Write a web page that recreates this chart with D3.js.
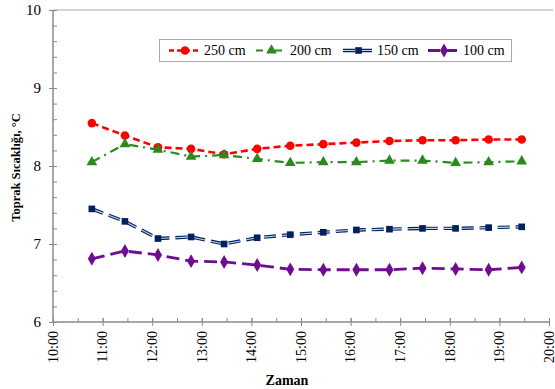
<!DOCTYPE html>
<html>
<head>
<meta charset="utf-8">
<script src="https://cdn.jsdelivr.net/npm/d3@7"></script>
<style>
  html, body { margin: 0; padding: 0; background: #fff; }
  svg { display: block; }
  svg text { font-family: "Liberation Serif", "Times New Roman", "DejaVu Serif", serif; fill: #000; }
</style>
</head>
<body>
<svg id="chart" width="555" height="389"></svg>
<script>
// Measurement times (hh:mm)
const times = ["10:47","11:27","12:07","12:47","13:27","14:07","14:47","15:27","16:07","16:47","17:27","18:07","18:47","19:27"];

// Soil temperature (°C) at each depth
const depth250 = [8.55, 8.39, 8.24, 8.22, 8.15, 8.22, 8.26, 8.28, 8.30, 8.32, 8.33, 8.33, 8.34, 8.34];
const depth200 = [8.05, 8.28, 8.21, 8.12, 8.14, 8.09, 8.04, 8.05, 8.05, 8.07, 8.07, 8.04, 8.05, 8.06];
const depth150 = [7.45, 7.29, 7.07, 7.09, 7.00, 7.08, 7.12, 7.15, 7.18, 7.19, 7.20, 7.20, 7.21, 7.22];
const depth100 = [6.81, 6.91, 6.86, 6.78, 6.77, 6.73, 6.675, 6.67, 6.67, 6.67, 6.69, 6.68, 6.67, 6.70];

const seriesNames = ["250 cm", "200 cm", "150 cm", "100 cm"];

const yTicks = [6, 7, 8, 9, 10];
const xTickLabels = ["10:00","11:00","12:00","13:00","14:00","15:00","16:00","17:00","18:00","19:00","20:00"];

const parse = d3.timeParse("%H:%M");
const serif = "'Liberation Serif', 'Times New Roman', serif";

const svg = d3.select("#chart");
const plotLeft = 53, plotRight = 549, plotTop = 10, plotBottom = 322;

const x = d3.scaleTime()
  .domain([parse("10:00"), parse("20:00")])
  .range([plotLeft, plotRight]);
const y = d3.scaleLinear().domain([6, 10]).range([plotBottom, plotTop]);

const axisColor = "#8a8a8a";

// top border of the plot area
svg.append("line")
  .attr("x1", plotLeft).attr("x2", 553)
  .attr("y1", plotTop).attr("y2", plotTop)
  .attr("stroke", "#c4c4c4").attr("stroke-width", 1.5);

// Y axis: minor ticks (inside) then major ticks (crossing)
const yMinor = d3.range(6, 10.001, 0.2);
svg.append("g")
  .attr("transform", `translate(${plotLeft},0)`)
  .call(d3.axisRight(y).tickValues(yMinor).tickSize(4).tickFormat(""))
  .call(g => g.select(".domain").remove())
  .call(g => g.selectAll("line").attr("stroke", axisColor));

const yAxis = svg.append("g")
  .attr("transform", `translate(${plotLeft},0)`)
  .call(d3.axisLeft(y).tickValues(yTicks).tickSize(4).tickPadding(8).tickFormat(d3.format("d")))
  .attr("font-family", serif);
yAxis.select(".domain").attr("stroke", axisColor).attr("stroke-width", 1.5).attr("d", `M0,${plotBottom}V${plotTop}`);
yAxis.selectAll(".tick line").attr("stroke", axisColor).attr("x1", 4).attr("x2", -4);
yAxis.selectAll(".tick text")
  .attr("fill", "#000")
  .attr("font-family", serif)
  .style("font-size", "15px");

// X axis: half-hour minor ticks (upward) and hourly major ticks (crossing)
const xMinor = d3.timeMinute.every(30).range(parse("10:00"), parse("20:01"));
svg.append("g")
  .attr("transform", `translate(0,${plotBottom})`)
  .call(d3.axisTop(x).tickValues(xMinor).tickSize(4).tickFormat(""))
  .call(g => g.select(".domain").remove())
  .call(g => g.selectAll("line").attr("stroke", axisColor));

const xAxis = svg.append("g")
  .attr("transform", `translate(0,${plotBottom})`)
  .call(d3.axisBottom(x).tickValues(xTickLabels.map(parse)).tickSize(4).tickFormat(d3.timeFormat("%H:%M")))
  .attr("font-family", serif);
xAxis.select(".domain").attr("stroke", axisColor).attr("stroke-width", 1.5).attr("d", `M${plotLeft},0H${plotRight}`);
xAxis.selectAll(".tick line").attr("stroke", axisColor).attr("y1", -4).attr("y2", 4);
xAxis.selectAll(".tick text")
  .attr("fill", "#000")
  .attr("font-family", serif)
  .style("font-size", "14px")
  .attr("text-anchor", "end")
  .attr("transform", "rotate(-90)")
  .attr("x", -9).attr("y", 0).attr("dy", "0.3em");

// Axis titles
svg.append("text")
  .attr("x", plotLeft + 234).attr("y", 385)
  .attr("text-anchor", "middle")
  .attr("font-family", serif)
  .style("font-size", "14px").style("font-weight", "bold")
  .text("Zaman");

svg.append("text")
  .attr("transform", "translate(20,167.5) rotate(-90)")
  .attr("text-anchor", "middle")
  .attr("font-family", serif)
  .style("font-size", "12.5px").style("font-weight", "bold")
  .text("Toprak Sıcaklığı, °C");

// Series styling
const styles = [
  { values: depth250, color: "#ff0000", width: 2.6, dash: "7,4", marker: "circle" },
  { values: depth200, color: "#2b8a1e", width: 2.2, dash: "9,5,2,5", marker: "triangle" },
  { values: depth150, color: "#002060", width: 3.4, dash: "12,6", marker: "square", inner: "#c9d4ee" },
  { values: depth100, color: "#700c90", width: 2.8, dash: "13,6", marker: "diamond" }
];

const symbolOf = {
  circle: d3.symbol().type(d3.symbolCircle).size(58),
  triangle: d3.symbol().type(d3.symbolTriangle).size(50),
  square: d3.symbol().type(d3.symbolSquare).size(44),
  diamond: d3.symbol().type(d3.symbolDiamond).size(56)
};

const line = d3.line()
  .x(d => x(parse(d.t)))
  .y(d => y(d.v));

styles.forEach(s => {
  const pts = times.map((t, i) => ({ t, v: s.values[i] }));
  svg.append("path")
    .datum(pts)
    .attr("fill", "none")
    .attr("stroke", s.color)
    .attr("stroke-width", s.width)
    .attr("stroke-dasharray", s.dash)
    .attr("d", line);
  if (s.inner) {
    svg.append("path")
      .datum(pts)
      .attr("fill", "none")
      .attr("stroke", s.inner)
      .attr("stroke-width", 1.1)
      .attr("stroke-dasharray", s.dash)
      .attr("d", line);
  }
  svg.append("g").selectAll("path")
    .data(pts)
    .join("path")
    .attr("transform", d => `translate(${x(parse(d.t))},${y(d.v)})`)
    .attr("d", symbolOf[s.marker]())
    .attr("fill", s.color);
});

// Legend
const legend = svg.append("g");
legend.append("rect")
  .attr("x", 159.5).attr("y", 39.5).attr("width", 352).attr("height", 22)
  .attr("fill", "#fff").attr("stroke", "#a8a8a8").attr("stroke-width", 1);

const legendPos = [
  { x1: 169, x2: 201, tx: 204 },
  { x1: 256, x2: 287, tx: 290 },
  { x1: 343, x2: 374, tx: 377 },
  { x1: 428, x2: 460, tx: 463 }
];

styles.forEach((s, i) => {
  const p = legendPos[i];
  const cy = 50.5;
  const mid = (p.x1 + p.x2) / 2;
  legend.append("line")
    .attr("x1", p.x1).attr("x2", p.x2).attr("y1", cy).attr("y2", cy)
    .attr("stroke", s.color).attr("stroke-width", s.width)
    .attr("stroke-dasharray", i === 0 ? "5,3" : (i === 1 ? "7,5,2,5" : "12,5"));
  if (s.inner) {
    legend.append("line")
      .attr("x1", p.x1).attr("x2", p.x2).attr("y1", cy).attr("y2", cy)
      .attr("stroke", s.inner).attr("stroke-width", 1.1)
      .attr("stroke-dasharray", "12,5");
  }
  legend.append("path")
    .attr("transform", `translate(${mid},${cy})`)
    .attr("d", symbolOf[s.marker]())
    .attr("fill", s.color);
  legend.append("text")
    .attr("x", p.tx).attr("y", cy).attr("dy", "0.35em")
    .attr("font-family", serif)
    .style("font-size", "14px")
    .text(seriesNames[i]);
});
</script>
</body>
</html>
